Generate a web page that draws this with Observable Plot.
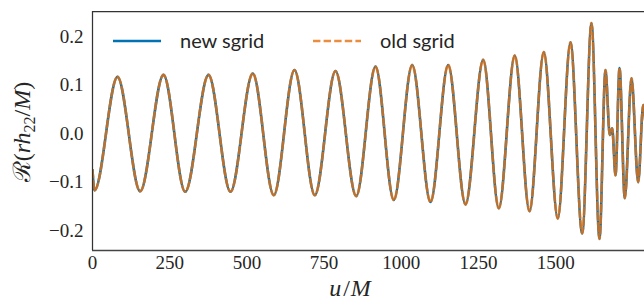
<!DOCTYPE html>
<html>
<head>
<meta charset="utf-8">
<script src="https://cdn.jsdelivr.net/npm/d3@7"></script>
<script src="https://cdn.jsdelivr.net/npm/@observablehq/plot@0.6"></script>
<style>
  html, body { margin: 0; padding: 0; background: #fff; overflow: hidden; }
  #chart { width: 644px; height: 303px; }
</style>
</head>
<body>
<div id="chart"></div>
<script>
// time samples (u/M) at extrema
const uTimes = [0, 6.5, 80.9, 154.4, 229.9, 300.2, 375.7, 446.9, 519.1, 587.1, 654.1, 719.9, 786.9, 854.0, 916.5, 975.7, 1035.3, 1094.6, 1151.8, 1207.9, 1265.3, 1315.8, 1367.5, 1415.2, 1461.5, 1506.8, 1547.9, 1585.9, 1615.9, 1641.8, 1661.3, 1675.2, 1683.0, 1693.7, 1706.7, 1723.8, 1745.5, 1767.2, 1783.5, 1790.9];
// Re(r h22 / M), new sgrid
const newSgrid = [-0.075, -0.117, 0.117, -0.119, 0.121, -0.120, 0.121, -0.120, 0.124, -0.127, 0.131, -0.127, 0.129, -0.129, 0.138, -0.137, 0.1415, -0.141, 0.1415, -0.146, 0.152, -0.154, 0.161, -0.160, 0.168, -0.175, 0.188, -0.206, 0.228, -0.217, 0.131, -0.003, 0.011, -0.086, 0.135, -0.133, 0.114, -0.100, 0.059, 0.02];
// Re(r h22 / M), old sgrid (indistinguishable at this scale)
const oldSgrid = [-0.075, -0.117, 0.117, -0.119, 0.121, -0.120, 0.121, -0.120, 0.124, -0.127, 0.131, -0.127, 0.129, -0.129, 0.138, -0.137, 0.1415, -0.141, 0.1415, -0.146, 0.152, -0.154, 0.161, -0.160, 0.168, -0.175, 0.188, -0.206, 0.228, -0.217, 0.131, -0.003, 0.011, -0.086, 0.135, -0.133, 0.114, -0.100, 0.059, 0.02];
const xTicks = [0, 250, 500, 750, 1000, 1250, 1500];
const yTicks = [-0.2, -0.1, 0.0, 0.1, 0.2];
const seriesNames = ["new sgrid", "old sgrid"];
const xDomain = [0, 1787.6];
const yDomain = [-0.241, 0.2517];

const newData = uTimes.map((u, i) => ({u, v: newSgrid[i]}));
const oldData = uTimes.map((u, i) => ({u, v: oldSgrid[i]}));

const blue = "#0173B2", orange = "#E6700F", orangeOpacity = 0.8, ink = "#262626";
const tickFont = "'Liberation Serif', 'DejaVu Serif', serif";

const chart = Plot.plot({
  width: 644,
  height: 303,
  marginLeft: 92,
  marginRight: 0,
  marginTop: 11,
  marginBottom: 53,
  style: {background: "#fff", color: ink, fontFamily: tickFont, fontSize: "19px"},
  x: {domain: xDomain, label: null},
  y: {domain: yDomain, label: null},
  marks: [
    Plot.axisX({ticks: xTicks, tickSize: 0, tickPadding: 5, tickFormat: d => String(d), fontSize: 19, label: null}),
    Plot.axisY({ticks: yTicks, tickSize: 0, tickPadding: 9, tickFormat: d => (d < 0 ? "\u2212" : "") + Math.abs(d).toFixed(1), fontSize: 19, label: null}),
    Plot.line(newData, {x: "u", y: "v", stroke: blue, strokeWidth: 2.6, curve: "monotone-x", clip: true}),
    Plot.line(oldData, {x: "u", y: "v", stroke: orange, strokeOpacity: orangeOpacity, strokeWidth: 2.6, strokeDasharray: "7.4,3.2", curve: "monotone-x", clip: true}),
    Plot.ruleY([yDomain[1]], {stroke: "#333", strokeWidth: 1.25}),
    Plot.ruleY([yDomain[0]], {stroke: "#444", strokeWidth: 1.4}),
    Plot.ruleX([xDomain[0]], {stroke: "#333", strokeWidth: 1.25})
  ]
});

document.getElementById("chart").appendChild(chart);

const svg = d3.select(chart);

// legend (inside the axes, no frame)
const legend = svg.append("g").attr("font-family", "Lato, 'Open Sans', sans-serif").attr("font-size", 20)
  .attr("fill", ink).attr("text-anchor", "start");
const legendItems = [
  {name: seriesNames[0], color: blue, dash: null, op: 1, x0: 113},
  {name: seriesNames[1], color: orange, dash: "7.4,3.2", op: orangeOpacity, x0: 313}
];
legendItems.forEach(it => {
  legend.append("line").attr("x1", it.x0).attr("x2", it.x0 + 48).attr("y1", 41).attr("y2", 41)
    .attr("stroke", it.color).attr("stroke-opacity", it.op).attr("stroke-width", 2.6).attr("stroke-dasharray", it.dash);
  legend.append("text").attr("x", it.x0 + 67).attr("y", 41).attr("dy", "0.35em").text(it.name);
});

// x axis label: u/M
const xl = svg.append("text").attr("x", 350).attr("y", 296).attr("text-anchor", "middle")
  .attr("font-family", tickFont).attr("font-size", 24).attr("fill", ink);
xl.append("tspan").attr("font-style", "italic").text("u");
xl.append("tspan").attr("dx", 2).text("/");
xl.append("tspan").attr("dx", 1).attr("font-style", "italic").text("M");

// y axis label: R(r h_22 / M)
const yl = svg.append("text").attr("transform", "translate(30,132) rotate(-90)").attr("text-anchor", "middle")
  .attr("font-family", tickFont).attr("font-size", 24).attr("fill", ink);
yl.append("tspan").attr("font-family", "'DejaVu Serif', serif").text("\u211B");
yl.append("tspan").text("(");
yl.append("tspan").attr("font-style", "italic").text("rh");
yl.append("tspan").attr("font-size", 16).attr("dy", 5).text("22");
yl.append("tspan").attr("dy", -5).text("/");
yl.append("tspan").attr("font-style", "italic").text("M");
yl.append("tspan").text(")");
</script>
</body>
</html>
